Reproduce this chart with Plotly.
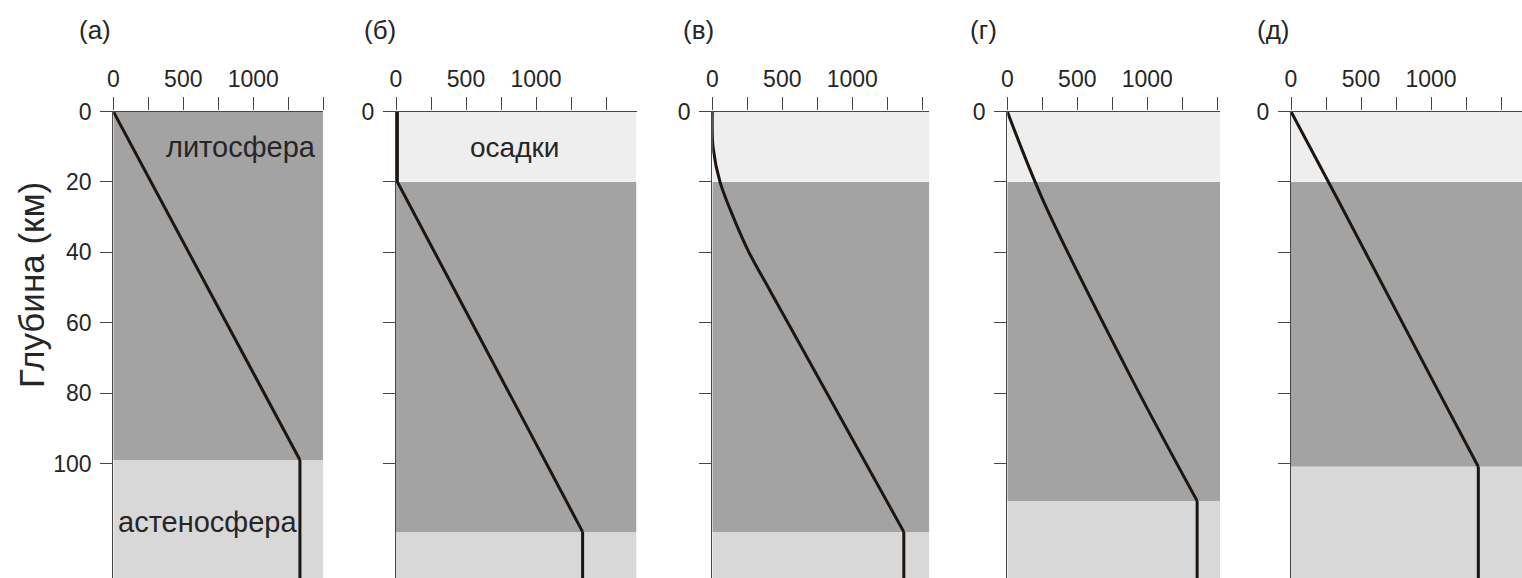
import plotly.graph_objects as go

# Panel letters
panel_labels = ["(а)", "(б)", "(в)", "(г)", "(д)"]

# Layer boundaries (km)
sediment_base = [None, 20, 20, 20, 20]
lithosphere_base = [99, 119.4, 119.4, 110.6, 100.9]

# Temperature (°C) against depth (km) through the lithosphere of each column
depth_a = [0, 99]
temp_a = [0, 1333]

depth_b = [0, 20, 119.4]
temp_b = [10, 10, 1333]

depth_c = [0, 10, 20, 30, 40, 50, 60, 119.4]
temp_c = [0, 5, 55, 150, 262, 400, 540, 1368]

depth_d = [0, 25, 76, 110.6]
temp_d = [0, 253, 890, 1356]

depth_e = [0, 25, 76, 100.9]
temp_e = [0, 334, 1007, 1338]

# Axis ticks
x_tickvals = [0, 250, 500, 750, 1000, 1250, 1500]
x_ticktext = ["0", "", "500", "", "1000", "", ""]
y_tickvals = [0, 20, 40, 60, 80, 100]

W, H = 1522, 578
# pixel geometry of each column: left edge (T=0) and right edge
col_left = [113.3, 396.0, 712.3, 1007.3, 1291.0]
col_right = [323.3, 636.5, 929.3, 1220.0, 1522.0]
top_px = 111.5
depth_max = 132.5
px_per_degree = 0.14

C_DARK = "#a3a3a3"
C_ASTH = "#d8d8d8"
C_SED = "#eeeeee"
C_LINE = "#1c1510"
C_AXIS = "#4a4444"
C_TEXT = "#262626"
FONT = "Liberation Sans, Arial, sans-serif"

fig = go.Figure()

profiles = [
    (depth_a, temp_a, "linear"),
    (depth_b, temp_b, "linear"),
    (depth_c, temp_c, "spline"),
    (depth_d, temp_d, "spline"),
    (depth_e, temp_e, "linear"),
]

shapes = []
annotations = []
layout_axes = {}
for i in range(5):
    n = "" if i == 0 else str(i + 1)
    xa, ya = "x" + n, "y" + n
    xmax = (col_right[i] - col_left[i]) / px_per_degree
    d, t, shape = profiles[i]
    # conductive geotherm through the lithosphere
    fig.add_trace(go.Scatter(
        x=t, y=d, mode="lines", xaxis=xa, yaxis=ya,
        line=dict(color=C_LINE, width=3, shape=shape, smoothing=0.9),
        showlegend=False, hoverinfo="skip",
    ))
    # constant temperature below the lithosphere base
    fig.add_trace(go.Scatter(
        x=[t[-1], t[-1]], y=[d[-1], depth_max + 5], mode="lines", xaxis=xa, yaxis=ya,
        line=dict(color=C_LINE, width=3),
        showlegend=False, hoverinfo="skip",
    ))
    # layer fills
    sb = sediment_base[i]
    top = 0
    if sb is not None:
        shapes.append(dict(type="rect", xref=xa, yref=ya, x0=0, x1=xmax, y0=0, y1=sb,
                           fillcolor=C_SED, line_width=0, layer="below"))
        top = sb
    shapes.append(dict(type="rect", xref=xa, yref=ya, x0=0, x1=xmax, y0=top, y1=lithosphere_base[i],
                       fillcolor=C_DARK, line_width=0, layer="below"))
    shapes.append(dict(type="rect", xref=xa, yref=ya, x0=0, x1=xmax, y0=lithosphere_base[i], y1=depth_max + 5,
                       fillcolor=C_ASTH, line_width=0, layer="below"))

    layout_axes["xaxis" + n] = dict(
        domain=[col_left[i] / W, col_right[i] / W], range=[0, xmax], anchor=ya,
        side="top", showgrid=False, zeroline=False, showline=True, linecolor=C_AXIS, linewidth=1.3,
        ticks="outside", ticklen=13, tickwidth=1.3, tickcolor=C_AXIS,
        tickvals=x_tickvals, ticktext=x_ticktext, ticklabelstandoff=1,
        tickfont=dict(family=FONT, size=23, color=C_TEXT), automargin=False,
    )
    layout_axes["yaxis" + n] = dict(
        domain=[0, (H - top_px) / H], range=[depth_max, 0], anchor=xa,
        showgrid=False, zeroline=False, showline=True, linecolor=C_AXIS, linewidth=1.3,
        ticks="outside", ticklen=12, tickwidth=1.3, tickcolor=C_AXIS,
        tickvals=y_tickvals,
        ticktext=[str(v) for v in y_tickvals] if i == 0 else ["0", "", "", "", "", ""],
        ticklabelstandoff=4,
        tickfont=dict(family=FONT, size=23, color=C_TEXT), automargin=False,
    )
    label_x = [77, 362, 681, 968, 1255][i]
    annotations.append(dict(text=panel_labels[i], xref="paper", yref="paper",
                            x=label_x / W, y=(H - 30) / H, xanchor="left", yanchor="middle",
                            showarrow=False, font=dict(family=FONT, size=26, color=C_TEXT)))

# layer names
annotations += [
    dict(text="литосфера", xref="x", yref="y", x=910, y=10, showarrow=False,
         font=dict(family=FONT, size=29, color=C_TEXT)),
    dict(text="астеносфера", xref="x", yref="y", x=670, y=116.5, showarrow=False,
         font=dict(family=FONT, size=29, color=C_TEXT)),
    dict(text="осадки", xref="x2", yref="y2", x=845, y=10.3, showarrow=False,
         font=dict(family=FONT, size=28, color=C_TEXT)),
    dict(text="Глубина (км)", xref="paper", yref="paper", x=31 / W, y=(H - 285) / H,
         textangle=-90, showarrow=False, xanchor="center", yanchor="middle",
         font=dict(family=FONT, size=35, color=C_TEXT)),
]

fig.update_layout(
    width=W, height=H, margin=dict(l=0, r=0, t=0, b=0, autoexpand=False),
    paper_bgcolor="white", plot_bgcolor="white",
    shapes=shapes, annotations=annotations, **layout_axes,
)

fig.write_html("out.html")
